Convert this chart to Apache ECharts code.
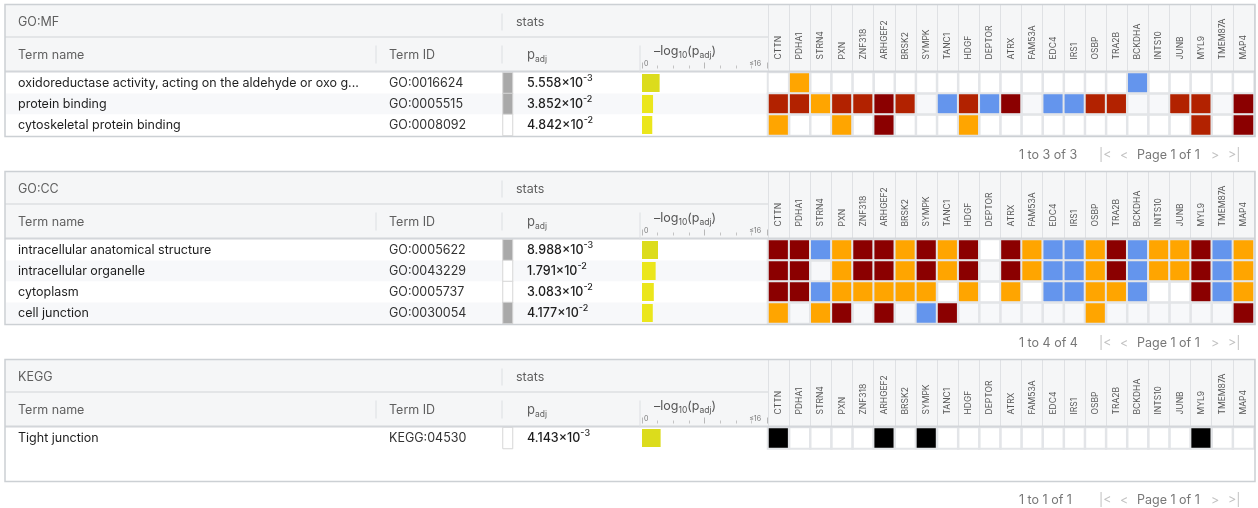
<!DOCTYPE html>
<html>
<head>
<meta charset="utf-8">
<script src="https://cdn.jsdelivr.net/npm/echarts@6/dist/echarts.min.js"></script>
<style>
  html, body { margin: 0; padding: 0; background: #ffffff; }
  #chart { width: 1258px; height: 508px; }
</style>
</head>
<body>
<div id="chart"></div>
<script>
// Genes shown as heatmap columns
const genes = ['CTTN', 'PDHA1', 'STRN4', 'PXN', 'ZNF318', 'ARHGEF2', 'BRSK2', 'SYMPK', 'TANC1', 'HDGF',
  'DEPTOR', 'ATRX', 'FAM53A', 'EDC4', 'IRS1', 'OSBP', 'TRA2B', 'BCKDHA', 'INTS10', 'JUNB', 'MYL9', 'TMEM87A', 'MAP4'];

// Evidence class per cell: 0 none, 1 dark red, 2 red, 3 orange, 4 blue, 5 black (KEGG annotation)
const mfTerms = ['oxidoreductase activity, acting on the aldehyde or oxo g...', 'protein binding', 'cytoskeletal protein binding'];
const mfIds = ['GO:0016624', 'GO:0005515', 'GO:0008092'];
const mfPadj = [5.558e-3, 3.852e-2, 4.842e-2];
const mfDriver = [1, 1, 0];
const mfCells = [
  [0, 3, 0, 0, 0, 0, 0, 0, 0, 0, 0, 0, 0, 0, 0, 0, 0, 4, 0, 0, 0, 0, 0],
  [2, 2, 3, 2, 2, 1, 2, 0, 4, 2, 4, 1, 0, 4, 4, 2, 2, 0, 0, 2, 2, 0, 1],
  [3, 0, 0, 3, 0, 1, 0, 0, 0, 3, 0, 0, 0, 0, 0, 0, 0, 0, 0, 0, 2, 0, 1]
];

const ccTerms = ['intracellular anatomical structure', 'intracellular organelle', 'cytoplasm', 'cell junction'];
const ccIds = ['GO:0005622', 'GO:0043229', 'GO:0005737', 'GO:0030054'];
const ccPadj = [8.988e-3, 1.791e-2, 3.083e-2, 4.177e-2];
const ccDriver = [1, 0, 0, 1];
const ccCells = [
  [1, 1, 4, 3, 1, 1, 3, 1, 3, 1, 0, 1, 3, 4, 4, 3, 1, 4, 3, 3, 1, 4, 3],
  [1, 1, 0, 3, 1, 1, 3, 1, 3, 1, 0, 1, 3, 4, 4, 3, 1, 4, 3, 3, 1, 4, 3],
  [1, 1, 4, 3, 3, 3, 3, 3, 0, 3, 0, 3, 0, 4, 4, 3, 3, 4, 0, 0, 1, 4, 3],
  [3, 0, 3, 1, 0, 1, 0, 4, 1, 0, 0, 0, 0, 0, 0, 3, 0, 0, 0, 0, 0, 0, 1]
];

const keggTerms = ['Tight junction'];
const keggIds = ['KEGG:04530'];
const keggPadj = [4.143e-3];
const keggDriver = [0];
const keggCells = [
  [5, 0, 0, 0, 0, 5, 0, 5, 0, 0, 0, 0, 0, 0, 0, 0, 0, 0, 0, 0, 5, 0, 0]
];

const sources = [
  { title: 'GO:MF', terms: mfTerms, ids: mfIds, padj: mfPadj, driver: mfDriver, cells: mfCells },
  { title: 'GO:CC', terms: ccTerms, ids: ccIds, padj: ccPadj, driver: ccDriver, cells: ccCells },
  { title: 'KEGG', terms: keggTerms, ids: keggIds, padj: keggPadj, driver: keggDriver, cells: keggCells }
];

const evidenceColors = ['rgba(0,0,0,0)', '#8b0000', '#b22200', '#ffa500', '#6495ed', '#000000'];
const FONT = 'Inter, "Noto Sans", sans-serif';

// Table geometry
const ROW_H = 21, HEAD_H = 68, MIN_H = 122, GAP = 35;
const X0 = 5, X1 = 1255, GENE_X = 768, BAR_X = 642;

function sci(v) {
  const parts = Number(v).toExponential(3).split('e');
  return '{m|' + parts[0] + '×10}{e|' + Number(parts[1]) + '}';
}

const grid = [], xAxis = [], yAxis = [], series = [], graphic = [];
let panelTop = 4.5;

sources.forEach(function (src) {
  const n = src.terms.length;
  const T = panelTop;
  const dataTop = T + HEAD_H;
  const h = n * ROW_H;
  const bottom = Math.max(dataTop + h + 1, T + MIN_H);
  panelTop = bottom + GAP;

  const g = grid.length;
  const band = { top: dataTop, height: h, outerBoundsMode: 'none' };
  grid.push(Object.assign({ left: 6, width: 1248 }, band));            // row stripes
  grid.push(Object.assign({ left: 5, width: 8 }, band));               // term name column
  grid.push(Object.assign({ left: 376, width: 8 }, band));             // term id column
  grid.push(Object.assign({ left: 514, width: 8 }, band));             // p_adj column
  grid.push(Object.assign({ left: 503, width: 9.5 }, band));           // driver indicator
  grid.push(Object.assign({ left: BAR_X, width: GENE_X - BAR_X - 1 }, band)); // bars
  grid.push(Object.assign({ left: GENE_X, width: X1 - 1 - GENE_X }, band));   // genes

  // x axes
  const xa = xAxis.length;
  for (let i = 0; i < 4; i++) xAxis.push({ gridIndex: g + i, type: 'value', show: false });
  xAxis.push({ gridIndex: g + 4, type: 'category', data: ['d'], show: false });
  xAxis.push({
    gridIndex: g + 5, type: 'value', min: 0, max: 16, interval: 8, position: 'top', offset: 4,
    axisLine: { show: false },
    splitLine: { show: false },
    axisTick: { show: true, length: 6, lineStyle: { color: '#b8b8b8', width: 1 } },
    minorTick: { show: true, splitNumber: 4, length: 3, lineStyle: { color: '#c4c4c4', width: 1 } },
    axisLabel: {
      show: true, fontSize: 7, color: '#777', margin: 1, fontFamily: FONT,
      alignMinLabel: 'left', alignMaxLabel: 'right', padding: [0, 6, 0, 2],
      formatter: function (v) { return v === 0 ? '0' : (v === 16 ? '≤16' : ''); }
    }
  });
  xAxis.push({
    gridIndex: g + 6, type: 'category', data: genes, position: 'top',
    axisLine: { show: false },
    axisTick: { show: true, length: HEAD_H, lineStyle: { color: '#dfe1e4', width: 1 } },
    axisLabel: { rotate: -90, fontSize: 8.5, color: '#555', margin: 13, interval: 0, fontFamily: FONT },
    splitLine: { show: false }
  });

  // y axes
  const ya = yAxis.length;
  const bare = { type: 'category', inverse: true, axisLine: { show: false }, axisTick: { show: false }, splitLine: { show: false } };
  yAxis.push(Object.assign({}, bare, {
    gridIndex: g, data: src.terms, axisLabel: { show: false },
    splitArea: { show: true, areaStyle: { color: ['#ffffff', '#f7f8fa'] } }
  }));
  yAxis.push(Object.assign({}, bare, {
    gridIndex: g + 1, data: src.terms, position: 'right',
    axisLabel: { margin: 5, interval: 0, fontSize: 12.5, color: '#1e1e1e', fontFamily: FONT }
  }));
  yAxis.push(Object.assign({}, bare, {
    gridIndex: g + 2, data: src.ids, position: 'right',
    axisLabel: { margin: 5, interval: 0, fontSize: 12.5, color: '#333', fontFamily: FONT }
  }));
  yAxis.push(Object.assign({}, bare, {
    gridIndex: g + 3, data: src.padj.map(String), position: 'right',
    axisLabel: {
      margin: 5, interval: 0, fontFamily: FONT,
      formatter: sci,
      rich: {
        m: { fontSize: 12.5, fontWeight: 500, color: '#1e1e1e', lineHeight: 18, fontFamily: FONT },
        e: { fontSize: 9, fontWeight: 500, color: '#1e1e1e', lineHeight: 8, verticalAlign: 'top', fontFamily: FONT }
      }
    }
  }));
  yAxis.push({ gridIndex: g + 4, type: 'category', data: src.terms, inverse: true, show: false });
  yAxis.push({ gridIndex: g + 5, type: 'category', data: src.terms, inverse: true, show: false });
  yAxis.push({ gridIndex: g + 6, type: 'category', data: src.terms, inverse: true, show: false });

  // driver-term indicator column
  series.push({
    type: 'heatmap', xAxisIndex: xa + 4, yAxisIndex: ya + 4, silent: true,
    itemStyle: { borderColor: '#d6d6d6', borderWidth: 1 },
    emphasis: { disabled: true },
    data: src.driver.map(function (d, i) {
      return { value: [0, i, d], itemStyle: { color: d ? '#a9a9a9' : '#ffffff' } };
    })
  });
  // -log10(p_adj) bars
  series.push({
    type: 'bar', xAxisIndex: xa + 5, yAxisIndex: ya + 5, silent: true, barWidth: 18,
    data: src.padj.map(function (p) {
      const v = -Math.log10(p);
      return { value: v, itemStyle: { color: v > 2 ? '#dcdc1c' : '#ebe61c' } };
    })
  });
  // gene x term evidence heatmap
  const cells = [];
  src.cells.forEach(function (row, i) {
    row.forEach(function (c, j) {
      cells.push({ value: [j, i, c], itemStyle: { color: evidenceColors[c] } });
    });
  });
  series.push({
    type: 'heatmap', xAxisIndex: xa + 6, yAxisIndex: ya + 6, silent: true,
    itemStyle: { borderColor: '#e3e5e8', borderWidth: 2 },
    emphasis: { disabled: true },
    data: cells
  });

  // table frame and header
  graphic.push({ type: 'rect', z: -10, silent: true, shape: { x: X0, y: T, width: X1 - X0, height: HEAD_H },
    style: { fill: '#f5f6f7' } });
  graphic.push({ type: 'line', z: 20, silent: true, shape: { x1: X0, y1: T + 32.5, x2: GENE_X, y2: T + 32.5 },
    style: { stroke: '#dcdfe2', lineWidth: 1.5 } });
  graphic.push({ type: 'line', z: 20, silent: true, shape: { x1: X0, y1: dataTop - 1, x2: X1, y2: dataTop - 1 },
    style: { stroke: '#d3d6da', lineWidth: 2 } });
  [[502, 9, 26], [376, 41, 59], [502, 41, 59], [640, 41, 68]].forEach(function (s) {
    graphic.push({ type: 'line', z: 20, silent: true, shape: { x1: s[0], y1: T + s[1], x2: s[0], y2: T + s[2] },
      style: { stroke: '#dcdfe2', lineWidth: 1 } });
  });
  graphic.push({ type: 'rect', z: 50, silent: true, shape: { x: X0, y: T, width: X1 - X0, height: bottom - T },
    style: { fill: 'none', stroke: '#ccd0d4', lineWidth: 1.5 } });

  const headStyle = { fill: '#5f5f5f', font: '12.5px ' + FONT, verticalAlign: 'middle' };
  graphic.push({ type: 'text', z: 30, silent: true, style: Object.assign({ x: 18, y: T + 17.5, text: src.title }, headStyle) });
  graphic.push({ type: 'text', z: 30, silent: true, style: Object.assign({ x: 516, y: T + 17.5, text: 'stats' }, headStyle) });
  graphic.push({ type: 'text', z: 30, silent: true, style: Object.assign({ x: 18, y: T + 50.5, text: 'Term name' }, headStyle) });
  graphic.push({ type: 'text', z: 30, silent: true, style: Object.assign({ x: 389, y: T + 50.5, text: 'Term ID' }, headStyle) });
  graphic.push({ type: 'text', z: 30, silent: true, style: {
    x: 527, y: T + 51, verticalAlign: 'middle', text: '{p|p}{s|adj}',
    rich: {
      p: { fontSize: 13, lineHeight: 16, fill: '#5f5f5f', fontFamily: FONT },
      s: { fontSize: 8.5, lineHeight: 8, verticalAlign: 'bottom', fill: '#5f5f5f', fontFamily: FONT }
    }
  } });
  graphic.push({ type: 'text', z: 30, silent: true, style: {
    x: 654, y: T + 47, verticalAlign: 'middle', text: '{b|–log}{s|10}{b|(p}{s|adj}{b|)}',
    rich: {
      b: { fontSize: 12.5, lineHeight: 16, fill: '#555', fontFamily: FONT },
      s: { fontSize: 8.5, lineHeight: 8, verticalAlign: 'bottom', fill: '#555', fontFamily: FONT }
    }
  } });

  // pager
  const fy = bottom + 19;
  const pager = [
    [1019, '1 to ' + n + ' of ' + n, '#777'],
    [1099, '|<', '#c2c2c2'],
    [1120, '<', '#c2c2c2'],
    [1137, 'Page 1 of 1', '#777'],
    [1211, '>', '#c2c2c2'],
    [1228, '>|', '#c2c2c2']
  ];
  pager.forEach(function (p) {
    graphic.push({ type: 'text', z: 30, silent: true,
      style: { x: p[0], y: fy, text: p[1], fill: p[2], font: '12.5px ' + FONT, verticalAlign: 'middle' } });
  });
});

const chart = echarts.init(document.getElementById('chart'), null, { renderer: 'canvas' });
chart.setOption({
  animation: false,
  backgroundColor: '#ffffff',
  textStyle: { fontFamily: FONT },
  tooltip: { show: false },
  grid: grid,
  xAxis: xAxis,
  yAxis: yAxis,
  series: series,
  graphic: { elements: graphic }
});
</script>
</body>
</html>
